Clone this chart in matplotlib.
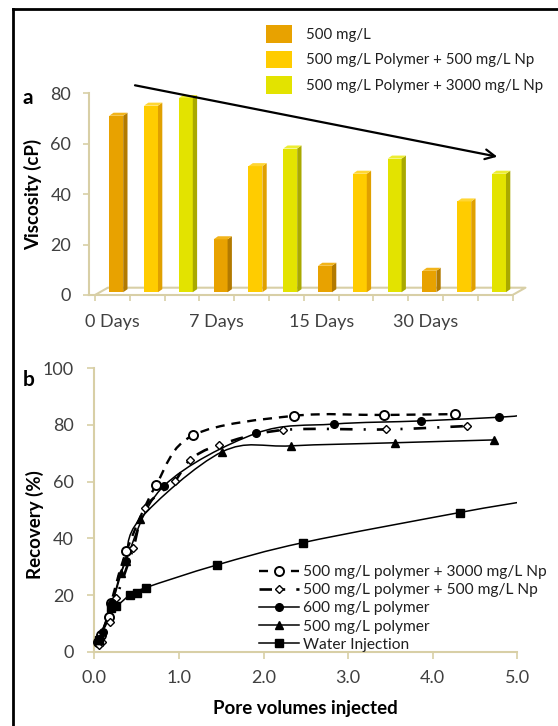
import numpy as np
import matplotlib
matplotlib.use("Agg")
import matplotlib.pyplot as plt
from matplotlib.patches import Polygon, Patch, PathPatch
from matplotlib.path import Path
from matplotlib.lines import Line2D

plt.rcParams['font.family'] = ['Lato', 'DejaVu Sans']
plt.rcParams['lines.scale_dashes'] = False

# ---------------- data: panel a ----------------
days = ["0 Days", "7 Days", "15 Days", "30 Days"]
bar_labels = ["500 mg/L", "500 mg/L Polymer + 500 mg/L Np", "500 mg/L Polymer + 3000 mg/L Np"]
visc_500 = [70, 21, 10.5, 8.5]
visc_500_np500 = [74, 50, 47, 36]
visc_500_np3000 = [77, 57, 53, 47]
viscosity_ticks = [0, 20, 40, 60, 80]

# ---------------- data: panel b ----------------
line_labels = ["500 mg/L polymer + 3000 mg/L Np", "500 mg/L polymer + 500 mg/L Np",
               "600 mg/L polymer", "500 mg/L polymer", "Water Injection"]
pv_np3000 = [0.04, 0.08, 0.17, 0.20, 0.38, 0.73, 1.17, 2.36, 3.42, 4.26]
rec_np3000 = [3.5, 6.0, 12.3, 17.3, 35.5, 58.8, 76.4, 83.2, 83.5, 83.8]
pv_np500 = [0.05, 0.09, 0.19, 0.26, 0.46, 0.60, 0.95, 1.13, 1.47, 2.23, 3.45, 4.40]
rec_np500 = [2.5, 3.5, 10.6, 18.8, 36.5, 50.8, 60.2, 67.6, 72.9, 78.2, 78.4, 79.6]
pv_p600 = [0.05, 0.10, 0.21, 0.37, 0.82, 1.91, 2.83, 3.86, 4.78, 5.0]
rec_p600 = [4.5, 7.0, 17.1, 32.0, 58.4, 77.0, 80.3, 81.4, 82.7, 83.2]
pv_p500 = [0.05, 0.20, 0.32, 0.37, 0.54, 1.51, 2.32, 3.55, 4.72]
rec_p500 = [4.0, 16.0, 27.9, 32.0, 46.8, 70.5, 72.6, 73.7, 74.7]
pv_water = [0.05, 0.20, 0.26, 0.42, 0.50, 0.61, 1.45, 2.47, 4.32, 5.0]
rec_water = [4.0, 15.5, 16.0, 20.0, 20.6, 22.6, 30.6, 38.5, 49.1, 52.6]
pv_ticks = [0.0, 1.0, 2.0, 3.0, 4.0, 5.0]
rec_ticks = [0, 20, 40, 60, 80, 100]

# ---------------- figure ----------------
W, H = 558, 726
fig = plt.figure(figsize=(W / 100, H / 100), dpi=100)


def fx(px):
    return px / W


def fy(py):
    return 1 - py / H


TAN = '#D8CFA6'
TICKC = '#404040'
FS = 13

# ---------- panel a ----------
slot_px = 34.8
x0_px = 95.0
a_l, a_r, a_t, a_b = 89.3, 530.0, 93.3, 295.0
axa = fig.add_axes([fx(a_l), fy(a_b), (a_r - a_l) / W, (a_b - a_t) / H])
axa.set_xlim((a_l - x0_px) / slot_px, (a_r - x0_px) / slot_px)
axa.set_ylim(0, 80)
for s in ['top', 'right']:
    axa.spines[s].set_visible(False)
for s in ['left', 'bottom']:
    axa.spines[s].set_color(TAN)
    axa.spines[s].set_linewidth(1.5)
nslots = 3 * len(days)
axa.spines['bottom'].set_bounds(axa.get_xlim()[0], nslots)

# floor
fdx, fdy = 0.37, 2.9
floor = [(0, 0), (fdx, fdy), (nslots + fdx, fdy), (nslots, 0)]
axa.add_line(Line2D([p[0] for p in floor], [p[1] for p in floor], color=TAN, lw=1.5, zorder=1))

front_cols = ['#E8A200', '#FFCC00', '#E3E300']
side_cols = ['#B27A00', '#E0A000', '#A9A900']
top_cols = ['#F2B41A', '#FFD633', '#EDED33']
series_vals = [visc_500, visc_500_np500, visc_500_np3000]
bw, boff, base = 0.40, 0.41, 1.1
ddx, ddy = 0.124, 1.2
for si, vals in enumerate(series_vals):
    xs = np.arange(len(days)) * 3 + si + boff
    bars = axa.bar(xs, vals, width=bw, bottom=base, align='edge',
                   color=front_cols[si], edgecolor='none', zorder=3)
    for b in bars:
        x, w, h, y0 = b.get_x(), b.get_width(), b.get_height(), b.get_y()
        top = y0 + h
        side = Polygon([(x + w, y0), (x + w + ddx, y0 + ddy), (x + w + ddx, top + ddy), (x + w, top)],
                       closed=True, facecolor=side_cols[si], edgecolor='none', zorder=3)
        topf = Polygon([(x, top), (x + w, top), (x + w + ddx, top + ddy), (x + ddx, top + ddy)],
                       closed=True, facecolor=top_cols[si], edgecolor='none', zorder=3)
        axa.add_patch(side)
        axa.add_patch(topf)

axa.set_xticks(np.arange(0, nslots + 1))
axa.set_xticklabels([])
axa.set_xticks(np.arange(len(days)) * 3 + 0.5, minor=True)
axa.set_xticklabels(days, minor=True, fontsize=FS, color=TICKC)
axa.tick_params(axis='x', which='major', length=4, width=1.2, color=TAN, direction='out')
axa.tick_params(axis='x', which='minor', length=0, pad=14)
axa.set_yticks(viscosity_ticks)
axa.set_yticklabels([str(v) for v in viscosity_ticks], fontsize=FS, color=TICKC)
axa.tick_params(axis='y', length=4, width=1.2, color=TAN, direction='out', pad=9)
axa.set_ylabel("Viscosity (cP)", fontsize=13.5, fontweight='bold', color='black')
axa.yaxis.set_label_coords((42.5 - a_l) / (a_r - a_l), 0.5)

handles_a = [Patch(facecolor=c, edgecolor='none') for c in front_cols]
fig.legend(handles_a, bar_labels, loc='upper left', bbox_to_anchor=(fx(266), fy(25)),
           frameon=False, fontsize=10.8, handlelength=1.75, handleheight=1.45,
           handletextpad=0.95, labelspacing=0.52, borderpad=0, borderaxespad=0,
           labelcolor='#202020')

axa.annotate("", xy=(fx(497.3), fy(156.7)), xytext=(fx(135), fy(85.3)),
             xycoords='figure fraction', textcoords='figure fraction',
             arrowprops=dict(arrowstyle='->,head_length=0.7,head_width=0.35', lw=1.6,
                             color='black', shrinkA=0, shrinkB=0))

fig.text(fx(28), fy(97.5), "a", fontsize=15, fontweight='bold', ha='center', va='center')

# ---------- panel b ----------
b_l, b_r, b_t, b_b = 94.3, 517.3, 368.2, 651.7
axb = fig.add_axes([fx(b_l), fy(b_b), (b_r - b_l) / W, (b_b - b_t) / H])
axb.set_xlim(0, 5)
axb.set_ylim(0, 100)
for s in ['top', 'right']:
    axb.spines[s].set_visible(False)
for s in ['left', 'bottom']:
    axb.spines[s].set_color(TAN)
    axb.spines[s].set_linewidth(1.5)
axb.set_xticks(pv_ticks)
axb.set_xticklabels([f"{v:.1f}" for v in pv_ticks], fontsize=FS, color=TICKC)
axb.set_yticks(rec_ticks)
axb.set_yticklabels([str(v) for v in rec_ticks], fontsize=FS, color=TICKC)
axb.tick_params(axis='x', length=5, width=1.2, color=TAN, direction='out', pad=8)
axb.tick_params(axis='y', length=5, width=1.2, color=TAN, direction='out', pad=10)
axb.set_xlabel("Pore volumes injected", fontsize=13.5, fontweight='bold', labelpad=10)
axb.set_ylabel("Recovery (%)", fontsize=13.5, fontweight='bold')
axb.yaxis.set_label_coords((44 - b_l) / (b_r - b_l), 0.45)


def smooth_path(x, y):
    P = np.column_stack([x, y]).astype(float)
    n = len(P)
    verts = [P[0]]
    codes = [Path.MOVETO]
    for i in range(n - 1):
        p0 = P[i - 1] if i > 0 else P[i]
        p1 = P[i]
        p2 = P[i + 1]
        p3 = P[i + 2] if i + 2 < n else P[i + 1]
        c1 = p1 + (p2 - p0) / 6.0
        c2 = p2 - (p3 - p1) / 6.0
        verts += [c1, c2, p2]
        codes += [Path.CURVE4] * 3
    return Path(verts, codes)


series_b = [
    (pv_np3000, rec_np3000, dict(ls=(0, (6.5, 5.0)), lw=1.7),
     dict(marker='o', ms=6.5, mfc='white', mec='black', mew=1.4), None),
    (pv_np500, rec_np500, dict(ls=(0, (9.0, 8.0, 1.5, 8.0)), lw=1.9),
     dict(marker='D', ms=4.2, mfc='white', mec='black', mew=1.0), None),
    (pv_p600, rec_p600, dict(ls='-', lw=1.1),
     dict(marker='o', ms=5.5, mfc='black', mec='black', mew=1.0), -1),
    (pv_p500, rec_p500, dict(ls='-', lw=1.1),
     dict(marker='^', ms=6.0, mfc='black', mec='black', mew=1.0), None),
    (pv_water, rec_water, dict(ls='-', lw=1.1),
     dict(marker='s', ms=5.5, mfc='black', mec='black', mew=1.0), -1),
]
handles_b = []
for i, (xv, yv, lst, mst, skip_last) in enumerate(series_b):
    pp = PathPatch(smooth_path(xv, yv), fill=False, edgecolor='black',
                   linestyle=lst['ls'], linewidth=lst['lw'], zorder=3 + i * 0.1,
                   capstyle='butt')
    axb.add_patch(pp)
    mx = xv[:skip_last] if skip_last else xv
    my = yv[:skip_last] if skip_last else yv
    axb.plot(mx, my, linestyle='none', zorder=4 + i * 0.1, clip_on=False, **mst)
    handles_b.append(Line2D([], [], color='black', linestyle=lst['ls'], linewidth=lst['lw'], **mst))

axb.legend(handles_b, line_labels, loc='upper left',
           bbox_to_anchor=((259 - b_l) / (b_r - b_l), (b_b - 565) / (b_b - b_t)),
           frameon=False, fontsize=11.2, handlelength=2.55, handletextpad=0.3,
           labelspacing=0.27, borderpad=0, borderaxespad=0, labelcolor='#202020')

fig.text(fx(28.6), fy(379.5), "b", fontsize=15, fontweight='bold', ha='center', va='center')

# frame lines (left and top)
fig.add_artist(Line2D([fx(12.7), fx(12.7)], [fy(9), 0], transform=fig.transFigure, color='black', lw=2))
fig.add_artist(Line2D([fx(12.7), 1], [fy(9), fy(9)], transform=fig.transFigure, color='black', lw=2))

fig.savefig("out.png", dpi=100)
